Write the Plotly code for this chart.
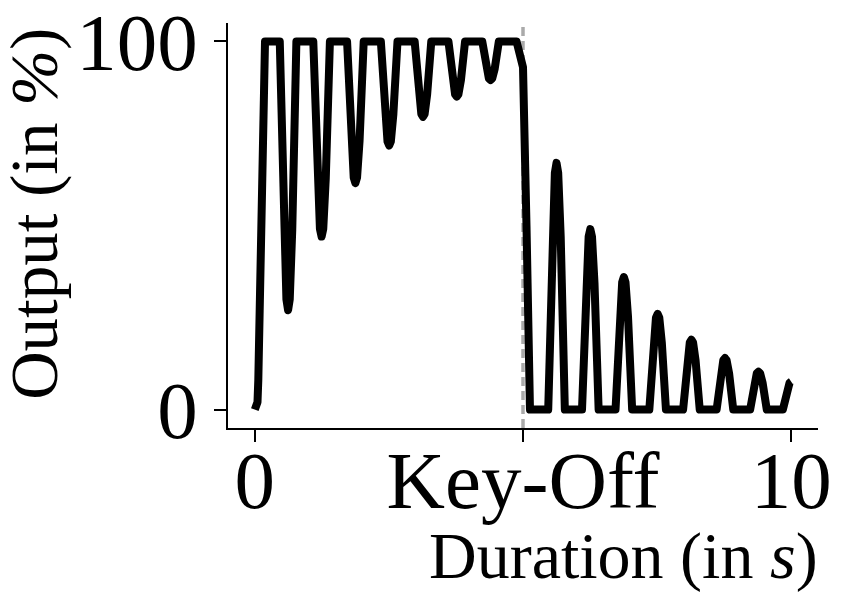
import plotly.graph_objects as go

# envelope output (time in s, output in %)
tiempo = [
    0.00, 0.05, 0.065, 0.106, 0.15, 0.19,
    0.465, 0.504, 0.542, 0.589, 0.62, 0.651, 0.698, 0.736, 0.775,
    1.09, 1.129, 1.167, 1.214, 1.245, 1.276, 1.323, 1.361, 1.40,
    1.72, 1.759, 1.797, 1.844, 1.875, 1.906, 1.953, 1.991, 2.03,
    2.35, 2.389, 2.427, 2.474, 2.505, 2.536, 2.583, 2.621, 2.66,
    2.98, 3.019, 3.057, 3.104, 3.135, 3.166, 3.213, 3.251, 3.29,
    3.61, 3.649, 3.687, 3.734, 3.765, 3.796, 3.843, 3.881, 3.92,
    4.24, 4.279, 4.317, 4.364, 4.395, 4.426, 4.473, 4.511, 4.55,
    4.88, 5.00, 5.065, 5.13,
    5.47, 5.509, 5.547, 5.594, 5.625, 5.656, 5.703, 5.741, 5.78,
    6.10, 6.139, 6.177, 6.224, 6.255, 6.286, 6.333, 6.371, 6.41,
    6.725, 6.764, 6.802, 6.849, 6.88, 6.911, 6.958, 6.996, 7.035,
    7.355, 7.394, 7.432, 7.479, 7.51, 7.541, 7.588, 7.626, 7.665,
    7.985, 8.024, 8.062, 8.109, 8.14, 8.171, 8.218, 8.256, 8.295,
    8.61, 8.649, 8.687, 8.734, 8.765, 8.796, 8.843, 8.881, 8.92,
    9.235, 9.274, 9.312, 9.359, 9.39, 9.421, 9.468, 9.506, 9.545,
    9.845, 9.884, 9.922, 9.97, 10.00,
]
salida = [
    0, 2, 8, 49, 80, 100,
    100, 70.8, 48.9, 29.9, 27, 29.9, 48.9, 70.8, 100,
    100, 78.8, 62.9, 49.1, 47, 49.1, 62.9, 78.8, 100,
    100, 84.6, 73, 63, 61.5, 63, 73, 84.6, 100,
    100, 88.7, 80.2, 72.8, 71.7, 72.8, 80.2, 88.7, 100,
    100, 91.8, 85.6, 80.3, 79.5, 80.3, 85.6, 91.8, 100,
    100, 94, 89.5, 85.6, 85, 85.6, 89.5, 94, 100,
    100, 95.8, 92.6, 89.9, 89.5, 89.9, 92.6, 95.8, 100,
    100, 93, 50, 0,
    0, 26.8, 46.9, 64.3, 67, 64.3, 46.9, 26.8, 0,
    0, 19.6, 34.3, 47, 49, 47, 34.3, 19.6, 0,
    0, 14.4, 25.2, 34.6, 36, 34.6, 25.2, 14.4, 0,
    0, 10.4, 18.2, 25, 26, 25, 18.2, 10.4, 0,
    0, 7.6, 13.3, 18.2, 19, 18.2, 13.3, 7.6, 0,
    0, 5.6, 9.8, 13.4, 14, 13.4, 9.8, 5.6, 0,
    0, 4.1, 7.2, 9.9, 10.3, 9.9, 7.2, 4.1, 0,
    0, 3, 5.3, 7.3, 7.6,
]

x_ticks = [0, 5, 10]
x_ticktext = ['0', 'Key-Off', '10']
y_ticks = [0, 100]
key_off = 5

fuente = 'Liberation Serif'

fig = go.Figure()

fig.add_trace(go.Scatter(
    x=tiempo,
    y=salida,
    mode='lines',
    line=dict(color='black', width=8),
    showlegend=False,
))

# linea de Key-Off
fig.add_shape(
    type='line', x0=key_off, x1=key_off, y0=0, y1=1,
    xref='x', yref='paper', layer='below',
    line=dict(color='#aaaaaa', width=3.5, dash='9px,5px'),
)

fig.add_annotation(
    text='Duration (in <i>s</i>)', xref='paper', yref='paper',
    x=1.0035, y=-0.316, xanchor='right', yanchor='middle',
    showarrow=False, font=dict(family=fuente, size=66, color='black'),
)
fig.add_annotation(
    text='Output (in <i>%</i>)', xref='paper', yref='paper',
    x=-0.328, y=0.53, xanchor='center', yanchor='middle', textangle=-90,
    showarrow=False, font=dict(family=fuente, size=67, color='black'),
)

fig.update_xaxes(
    range=[-0.5, 10.5], tickvals=x_ticks, ticktext=x_ticktext,
    showline=True, linecolor='black', linewidth=2, mirror=False,
    ticks='outside', ticklen=12, tickwidth=2, tickcolor='black',
    showgrid=False, zeroline=False, automargin=False,
    ticklabelstandoff=-31, ticklabeloverflow='allow',
    tickfont=dict(family=fuente, size=81, color='black'),
)
fig.update_yaxes(
    range=[-5, 105], tickvals=y_ticks,
    showline=True, linecolor='black', linewidth=2, mirror=False,
    ticks='outside', ticklen=12, tickwidth=2, tickcolor='black',
    showgrid=False, zeroline=False, automargin=False,
    ticklabeloverflow='allow',
    tickfont=dict(family=fuente, size=81, color='black'),
)

fig.update_layout(
    width=848, height=607,
    margin=dict(l=228, r=30, t=23, b=179),
    paper_bgcolor='white', plot_bgcolor='white',
    font=dict(family=fuente),
)

# sin margen de pagina y uniones redondeadas en la linea
ajustes = """
document.body.style.margin = '0';
var estilo = document.createElement('style');
estilo.textContent = '.scatterlayer path.js-line {stroke-linejoin: round !important;}';
document.head.appendChild(estilo);
"""

fig.write_html('out.html', post_script=ajustes, config={'displayModeBar': False})
